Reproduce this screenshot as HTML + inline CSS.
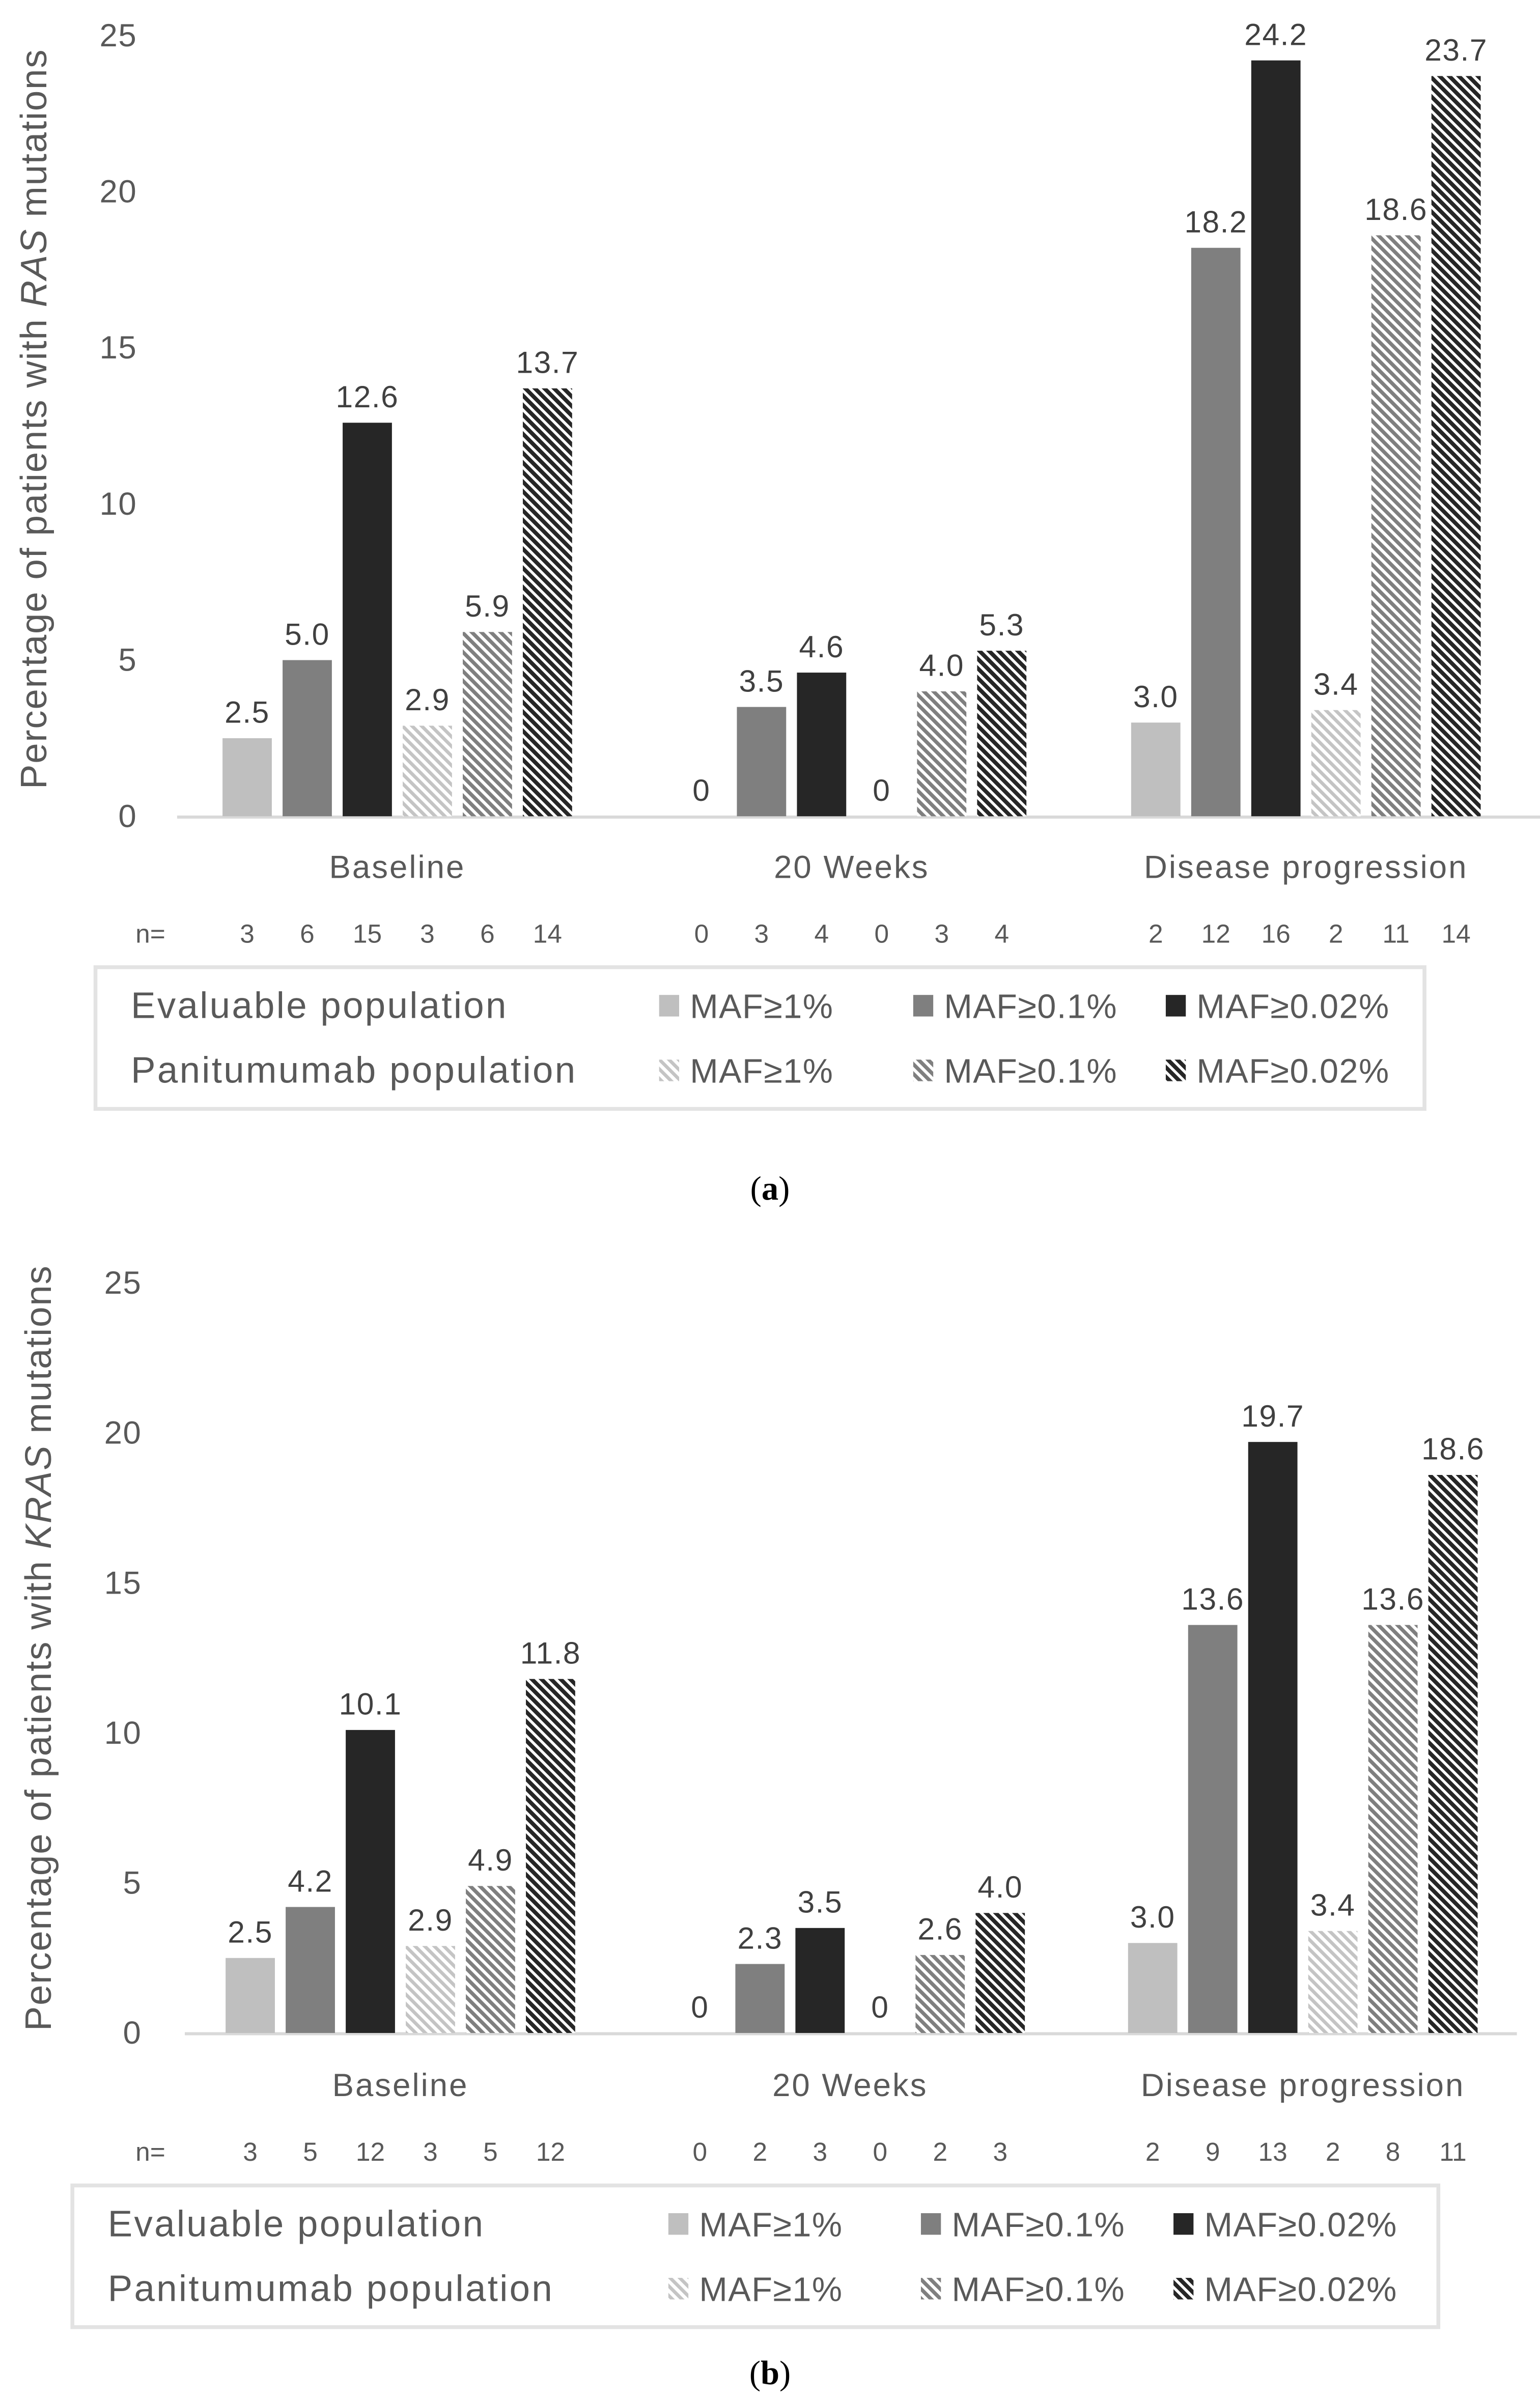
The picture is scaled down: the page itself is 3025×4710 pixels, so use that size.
<!DOCTYPE html>
<html><head><meta charset="utf-8"><style>
html,body{margin:0;padding:0;background:#fff;}
svg{display:block;font-family:"Liberation Sans",sans-serif;}
</style></head><body>
<svg id="fig" width="3025" height="4710" viewBox="0 0 1000 1557" preserveAspectRatio="none" xmlns="http://www.w3.org/2000/svg">
<defs>
<pattern id="hLight" width="4.4" height="4.4" patternUnits="userSpaceOnUse" patternTransform="rotate(-45)"><rect width="4.4" height="4.4" fill="#fff"/><rect width="2.2" height="4.4" fill="#c4c4c4"/></pattern>
<pattern id="hMid" width="4.4" height="4.4" patternUnits="userSpaceOnUse" patternTransform="rotate(-45)"><rect width="4.4" height="4.4" fill="#fff"/><rect width="2.4" height="4.4" fill="#7f7f7f"/></pattern>
<pattern id="hDark" width="4.4" height="4.4" patternUnits="userSpaceOnUse" patternTransform="rotate(-45)"><rect width="4.4" height="4.4" fill="#fff"/><rect width="2.6" height="4.4" fill="#262626"/></pattern>
</defs>
<g id="chartA"></g>
<g id="chartB"></g>
<text x="500" y="779" text-anchor="middle" font-family="Liberation Serif, serif" font-size="22" fill="#000">(<tspan font-weight="bold">a</tspan>)</text>
<text x="500" y="1548" text-anchor="middle" font-family="Liberation Serif, serif" font-size="22" fill="#000">(<tspan font-weight="bold">b</tspan>)</text>
</svg>
<script>
const categories = ["Baseline", "20 Weeks", "Disease progression"];
const seriesLabels = ["MAF≥1%", "MAF≥0.1%", "MAF≥0.02%", "MAF≥1%", "MAF≥0.1%", "MAF≥0.02%"];
const yTicks = [0, 5, 10, 15, 20, 25];
// chart a (RAS) values, per category, per series
const rasValues = [[2.5, 5.0, 12.6, 2.9, 5.9, 13.7], [0, 3.5, 4.6, 0, 4.0, 5.3], [3.0, 18.2, 24.2, 3.4, 18.6, 23.7]];
const rasN = [[3, 6, 15, 3, 6, 14], [0, 3, 4, 0, 3, 4], [2, 12, 16, 2, 11, 14]];
// chart b (KRAS)
const krasValues = [[2.5, 4.2, 10.1, 2.9, 4.9, 11.8], [0, 2.3, 3.5, 0, 2.6, 4.0], [3.0, 13.6, 19.7, 3.4, 13.6, 18.6]];
const krasN = [[3, 5, 12, 3, 5, 12], [0, 2, 3, 0, 2, 3], [2, 9, 13, 2, 8, 11]];

const NS = "http://www.w3.org/2000/svg";
const fills = ["#bfbfbf", "#7f7f7f", "#262626", "url(#hLight)", "url(#hMid)", "url(#hDark)"];
function mk(parent, tag, attrs, text) {
  const e = document.createElementNS(NS, tag);
  for (const k in attrs) e.setAttribute(k, attrs[k]);
  if (text !== undefined) e.textContent = text;
  parent.appendChild(e);
  return e;
}
function draw(g, cfg, values, ns, gene) {
  const y = v => cfg.y0 - (v / 25) * (cfg.y0 - cfg.y25);
  const x = (c, s) => cfg.centers[c] + (s - 2.5) * 39;
  yTicks.forEach(t => {
    const e = mk(g, "text", {x: cfg.tickX, y: y(t) + 7, "text-anchor": "end", "font-size": 21, "letter-spacing": 0.5, fill: "#595959"}, String(t));
    
    
  });
  const ax = mk(g, "line", {x1: cfg.axX1, x2: cfg.axX2, y1: cfg.y0 + 0.5, y2: cfg.y0 + 0.5, stroke: "#d9d9d9", "stroke-width": 2});
  
  
  const tt = mk(g, "text", {transform: `translate(${cfg.titleX},${cfg.titleY}) rotate(-90)`, "text-anchor": "middle", "font-size": 24, "letter-spacing": 0.6, fill: "#595959"});
  
  
  tt.innerHTML = `Percentage of patients with <tspan font-style="italic">${gene}</tspan> mutations`;
  categories.forEach((cat, c) => {
    const cl = mk(g, "text", {x: cfg.centers[c], y: cfg.catY, "text-anchor": "middle", "font-size": 21, "letter-spacing": 1, fill: "#595959"}, cat);
    
    
    values[c].forEach((v, s) => {
      const cx = x(c, s);
      if (v > 0) {
        const r = mk(g, "rect", {x: cx - 16, y: y(v), width: 32, height: y(0) - y(v), fill: fills[s]});
        
        
      }
      const lab = mk(g, "text", {x: cx, y: y(v) - 10, "text-anchor": "middle", "font-size": 20, "letter-spacing": 0.5, fill: "#404040"}, v === 0 ? "0" : v.toFixed(1));
      
      
      const nl = mk(g, "text", {x: cx, y: cfg.nY, "text-anchor": "middle", "font-size": 17, fill: "#595959"}, String(ns[c][s]));
      
      
    });
  });
  const nEq = mk(g, "text", {x: cfg.nEqX, y: cfg.nY, "font-size": 17, fill: "#595959"}, "n=");
  
  
  const box = mk(g, "rect", {x: cfg.lgX, y: cfg.lgY, width: cfg.lgW, height: 92, fill: "#fff", stroke: "#e3e3e3", "stroke-width": 2.5});
  
  
  ["Evaluable population", "Panitumumab population"].forEach((p, r) => {
    const ry = cfg.lgY + 25 + r * 42;
    const pl = mk(g, "text", {x: cfg.lgX + 23, y: ry + 8, "font-size": 24, "letter-spacing": 1.1, fill: "#595959"}, p);
    
    
    for (let k = 0; k < 3; k++) {
      const s = r * 3 + k;
      const sw = mk(g, "rect", {x: cfg.swX[k], y: ry - 7, width: 13, height: 14, fill: fills[s]});
      
      
      const lt = mk(g, "text", {x: cfg.swX[k] + 20, y: ry + 8, "font-size": 22, "letter-spacing": 0.5, fill: "#595959"}, seriesLabels[s]);
      
      
    }
  });
}
draw(document.getElementById("chartA"), {y0: 530, y25: 23, centers: [258, 553, 848], tickX: 89, axX1: 115, axX2: 1000, titleX: 30, titleY: 272, catY: 570, nY: 612, nEqX: 88, lgX: 62, lgY: 628, lgW: 863, swX: [428, 593, 757]}, rasValues, rasN, "RAS");
draw(document.getElementById("chartB"), {y0: 1320, y25: 833, centers: [260, 552, 846], tickX: 92, axX1: 120, axX2: 985, titleX: 33, titleY: 1070, catY: 1361, nY: 1403, nEqX: 88, lgX: 47, lgY: 1419, lgW: 887, swX: [434, 598, 762]}, krasValues, krasN, "KRAS");
</script>
</body></html>
